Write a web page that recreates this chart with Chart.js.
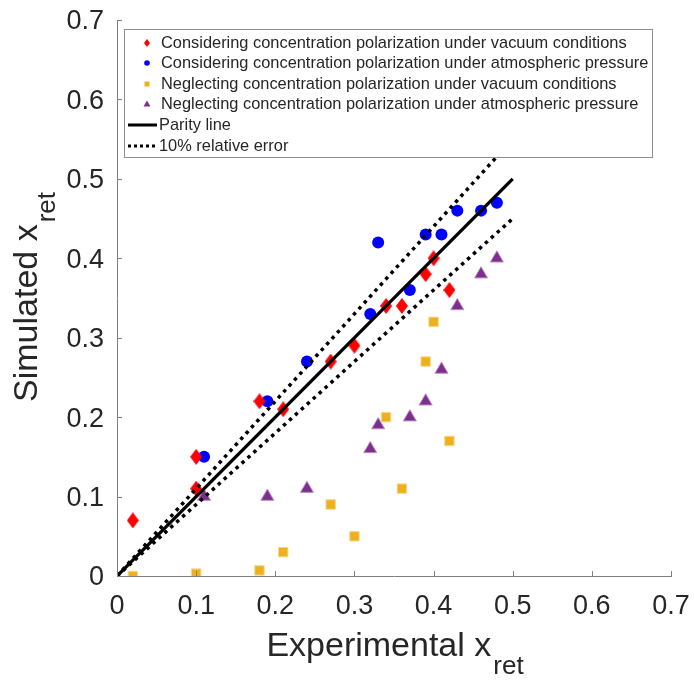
<!DOCTYPE html>
<html>
<head>
<meta charset="utf-8">
<script src="https://cdn.jsdelivr.net/npm/chart.js@4.4.0/dist/chart.umd.min.js"></script>
<style>
  html, body { margin: 0; padding: 0; background: #fff; }
  #wrap { width: 694px; height: 680px; }
</style>
</head>
<body>
<div id="wrap"><canvas id="parity"></canvas></div>
<script>
const FONT = "'Liberation Sans', Arial, Helvetica, sans-serif"
const TEXT = '#262626'
const AXIS = '#7f7f7f'

// considering CP, vacuum (red diamonds)
const cpVacX = [0.02, 0.10, 0.10, 0.18, 0.21, 0.27, 0.30, 0.34, 0.36, 0.39, 0.40, 0.42]
const cpVacY = [0.07, 0.15, 0.11, 0.22, 0.21, 0.27, 0.29, 0.34, 0.34, 0.38, 0.40, 0.36]
// considering CP, atmospheric (blue circles)
const cpAtmX = [0.11, 0.19, 0.24, 0.32, 0.33, 0.37, 0.39, 0.41, 0.43, 0.46, 0.48]
const cpAtmY = [0.15, 0.22, 0.27, 0.33, 0.42, 0.36, 0.43, 0.43, 0.46, 0.46, 0.47]
// neglecting CP, vacuum (orange squares)
const noVacX = [0.02, 0.10, 0.18, 0.21, 0.27, 0.30, 0.34, 0.36, 0.39, 0.40, 0.42]
const noVacY = [0.00, 0.003, 0.007, 0.03, 0.09, 0.05, 0.20, 0.11, 0.27, 0.32, 0.17]
// neglecting CP, atmospheric (purple triangles)
const noAtmX = [0.11, 0.19, 0.24, 0.32, 0.33, 0.37, 0.39, 0.41, 0.43, 0.46, 0.48]
const noAtmY = [0.10, 0.10, 0.11, 0.16, 0.19, 0.20, 0.22, 0.26, 0.34, 0.38, 0.40]

// reference lines
const lineX = [0, 0.5]
const parityY = [0, 0.5]
const upperY = [0, 0.55]
const lowerY = [0, 0.45]

const tickValues = [0, 0.1, 0.2, 0.3, 0.4, 0.5, 0.6, 0.7]

const legendLabels = [
    'Considering concentration polarization under vacuum conditions',
    'Considering concentration polarization under atmospheric pressure',
    'Neglecting concentration polarization under vacuum conditions',
    'Neglecting concentration polarization under atmospheric pressure',
    'Parity line',
    '10% relative error'
]

function pts(xs, ys) {
    return xs.map((x, i) => ({ x: x, y: ys[i] }))
}

// taller-than-wide diamond like the matlab 'd' marker
function diamond(w, h, color) {
    const c = document.createElement('canvas')
    c.width = w
    c.height = h
    const g = c.getContext('2d')
    g.fillStyle = color
    g.beginPath()
    g.moveTo(w / 2, 0)
    g.lineTo(w, h / 2)
    g.lineTo(w / 2, h)
    g.lineTo(0, h / 2)
    g.closePath()
    g.fill()
    return c
}

const redDiamond = diamond(12, 16, '#ff0000')

// keep the plot box where the reference has it
function noScalePadding(s) {
    s.paddingTop = 0
    s.paddingBottom = 0
    s.paddingLeft = 0
    s.paddingRight = 0
}

const axisDeco = {
    id: 'axisDeco',
    afterDraw(chart) {
        const ctx = chart.ctx
        const a = chart.chartArea
        const xs = chart.scales.x
        const ys = chart.scales.y
        ctx.save()

        // inward ticks
        ctx.strokeStyle = AXIS
        ctx.lineWidth = 1
        ctx.beginPath()
        tickValues.forEach(v => {
            const px = Math.round(xs.getPixelForValue(v)) + 0.5
            ctx.moveTo(px, a.bottom)
            ctx.lineTo(px, a.bottom - 5)
            const py = Math.round(ys.getPixelForValue(v)) + 0.5
            ctx.moveTo(a.left, py)
            ctx.lineTo(a.left + 5, py)
        })
        ctx.stroke()

        // axis titles with subscripts
        ctx.fillStyle = TEXT
        ctx.textBaseline = 'alphabetic'
        const big = '34px ' + FONT
        const small = '26px ' + FONT

        ctx.font = big
        const w1 = ctx.measureText('Experimental x').width
        ctx.font = small
        const w2 = ctx.measureText('ret').width
        let x0 = (a.left + a.right) / 2 - (w1 + w2) / 2
        ctx.font = big
        ctx.textAlign = 'left'
        ctx.fillText('Experimental x', x0, 656)
        ctx.font = small
        ctx.fillText('ret', x0 + w1 + 2, 674)

        ctx.translate(37, (a.top + a.bottom) / 2)
        ctx.rotate(-Math.PI / 2)
        ctx.font = big
        const h1 = ctx.measureText('Simulated x').width
        x0 = -(h1 + w2) / 2
        ctx.fillText('Simulated x', x0, 0)
        ctx.font = small
        ctx.fillText('ret', x0 + h1 + 2, 18)
        ctx.restore()

        // legend box (opaque, covers the lines behind it)
        const L = { x: 124, y: 29, w: 528, h: 128 }
        ctx.save()
        ctx.fillStyle = '#ffffff'
        ctx.fillRect(L.x, L.y, L.w, L.h)
        ctx.strokeStyle = '#8c8c8c'
        ctx.lineWidth = 1
        ctx.strokeRect(L.x + 0.5, L.y + 0.5, L.w, L.h)

        const rowY = [43, 63, 84, 104, 125, 146]
        const mx = 147
        ctx.font = '16.4px ' + FONT
        ctx.fillStyle = TEXT
        ctx.textBaseline = 'middle'
        ctx.textAlign = 'left'
        legendLabels.forEach((t, i) => {
            ctx.fillText(t, i < 4 ? 161 : 159, rowY[i])
        })

        // markers
        let y = rowY[0]
        ctx.fillStyle = '#ff0000'
        ctx.beginPath()
        ctx.moveTo(mx, y - 4); ctx.lineTo(mx + 3, y); ctx.lineTo(mx, y + 4); ctx.lineTo(mx - 3, y)
        ctx.fill()
        y = rowY[1]
        ctx.fillStyle = '#0000ff'
        ctx.beginPath()
        ctx.arc(mx, y, 2.8, 0, Math.PI * 2)
        ctx.fill()
        y = rowY[2]
        ctx.fillStyle = '#edb120'
        ctx.fillRect(mx - 2.5, y - 2.5, 5, 5)
        y = rowY[3]
        ctx.fillStyle = '#7e2f8e'
        ctx.beginPath()
        ctx.moveTo(mx, y - 3.5); ctx.lineTo(mx + 3.5, y + 2.5); ctx.lineTo(mx - 3.5, y + 2.5)
        ctx.fill()

        ctx.strokeStyle = '#000000'
        ctx.lineWidth = 3
        ctx.beginPath()
        ctx.moveTo(128, rowY[4]); ctx.lineTo(157, rowY[4])
        ctx.stroke()
        ctx.setLineDash([3, 3])
        ctx.beginPath()
        ctx.moveTo(128, rowY[5]); ctx.lineTo(157, rowY[5])
        ctx.stroke()
        ctx.restore()
    }
}

const config = {
    type: 'scatter',
    data: {
        datasets: [
            {
                label: 'parity',
                data: pts(lineX, parityY),
                showLine: true,
                borderColor: '#000000',
                borderWidth: 3.3,
                pointRadius: 0
            },
            {
                label: 'upper',
                data: pts(lineX, upperY),
                showLine: true,
                borderColor: '#000000',
                borderWidth: 3.5,
                borderDash: [3.5, 4.5],
                pointRadius: 0
            },
            {
                label: 'lower',
                data: pts(lineX, lowerY),
                showLine: true,
                borderColor: '#000000',
                borderWidth: 3.5,
                borderDash: [3.5, 4.5],
                pointRadius: 0
            },
            {
                label: legendLabels[0],
                data: pts(cpVacX, cpVacY),
                pointStyle: redDiamond,
                backgroundColor: '#ff0000',
                borderWidth: 0
            },
            {
                label: legendLabels[1],
                data: pts(cpAtmX, cpAtmY),
                pointStyle: 'circle',
                pointRadius: 6,
                backgroundColor: '#0000ff',
                borderWidth: 0
            },
            {
                label: legendLabels[2],
                data: pts(noVacX, noVacY),
                pointStyle: 'rect',
                pointRadius: 6.7,
                backgroundColor: '#edb120',
                borderColor: '#f6d98f',
                borderWidth: 1
            },
            {
                label: legendLabels[3],
                data: pts(noAtmX, noAtmY),
                pointStyle: 'triangle',
                pointRadius: 7.5,
                backgroundColor: '#7e2f8e',
                borderColor: '#b98fc2',
                borderWidth: 1
            }
        ]
    },
    options: {
        responsive: true,
        maintainAspectRatio: false,
        animation: false,
        layout: { padding: { left: 0, right: 23, top: 20, bottom: 0 } },
        plugins: {
            legend: { display: false },
            tooltip: { enabled: false }
        },
        scales: {
            x: {
                type: 'linear',
                min: 0,
                max: 0.7,
                afterBuildTicks(s) { s.ticks = tickValues.map(v => ({ value: v })) },
                afterFit(s) { s.height = 104; noScalePadding(s) },
                grid: { display: false, drawTicks: false },
                border: { display: true, color: AXIS, width: 1 },
                ticks: {
                    padding: 14,
                    color: TEXT,
                    font: { family: FONT, size: 27 },
                    maxRotation: 0,
                    callback: v => v === 0 ? '0' : v.toFixed(1)
                }
            },
            y: {
                type: 'linear',
                min: 0,
                max: 0.7,
                afterBuildTicks(s) { s.ticks = tickValues.map(v => ({ value: v })) },
                afterFit(s) { s.width = 117; noScalePadding(s) },
                grid: { display: false, drawTicks: false },
                border: { display: true, color: AXIS, width: 1 },
                ticks: {
                    padding: 13,
                    labelOffset: 2,
                    color: TEXT,
                    font: { family: FONT, size: 27 },
                    callback: v => v === 0 ? '0' : v.toFixed(1)
                }
            }
        }
    },
    plugins: [axisDeco]
}

new Chart(document.getElementById('parity'), config)
</script>
</body>
</html>
